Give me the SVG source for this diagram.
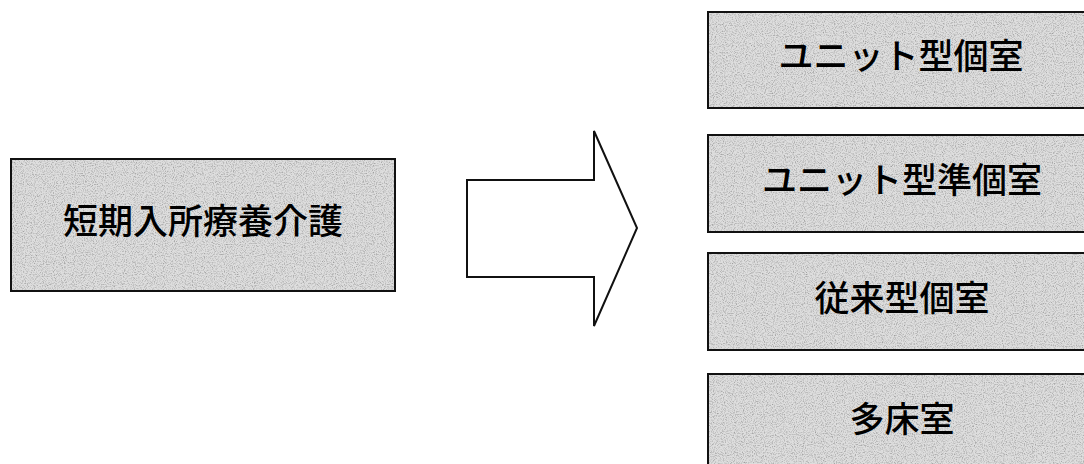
<svg xmlns="http://www.w3.org/2000/svg" width="1084" height="464" viewBox="0 0 1084 464">
  <defs>
    <filter id="noise" x="0" y="0" width="100%" height="100%">
      <feTurbulence type="fractalNoise" baseFrequency="0.9" numOctaves="2" seed="3" result="t"/>
      <feColorMatrix in="t" type="matrix" values="0 0 0 0 0.35  0 0 0 0 0.35  0 0 0 0 0.35  0 0 0 -2.4 1.35" result="dots"/>
      <feComposite in="dots" in2="SourceGraphic" operator="in" result="d2"/>
      <feMerge>
        <feMergeNode in="SourceGraphic"/>
        <feMergeNode in="d2"/>
      </feMerge>
    </filter>
    <style>
      .box { fill: #dedede; }
      .frame { fill: none; stroke: #111; stroke-width: 2; }
      .lbl { font-family: "Noto Sans CJK JP", "Noto Sans CJK SC", sans-serif; font-size: 35px; font-weight: 500; fill: #000; text-anchor: middle; }
      .arrow { fill: #fff; stroke: #111; stroke-width: 2; stroke-linejoin: miter; }
    </style>
  </defs>
  <rect width="1084" height="464" fill="#fff"/>

  <g id="node-source">
    <rect class="box" x="11" y="159" width="384" height="132" filter="url(#noise)"/>
    <rect class="frame" x="11" y="159" width="384" height="132"/>
    <text class="lbl" x="203" y="234">短期入所療養介護</text>
  </g>

  <g id="connectors">
    <path class="arrow" d="M467,180 L594,180 L594,131 L637,228 L594,326 L594,277 L467,277 Z"/>
  </g>

  <g id="node-unit-private">
    <rect class="box" x="708" y="12" width="390" height="96" filter="url(#noise)"/>
    <rect class="frame" x="708" y="12" width="390" height="96"/>
    <text class="lbl" x="901" y="69">ユニット型個室</text>
  </g>

  <g id="node-unit-semi">
    <rect class="box" x="708" y="135" width="390" height="97" filter="url(#noise)"/>
    <rect class="frame" x="708" y="135" width="390" height="97"/>
    <text class="lbl" x="902" y="193">ユニット型準個室</text>
  </g>

  <g id="node-conventional">
    <rect class="box" x="708" y="253" width="390" height="97" filter="url(#noise)"/>
    <rect class="frame" x="708" y="253" width="390" height="97"/>
    <text class="lbl" x="902" y="311">従来型個室</text>
  </g>

  <g id="node-multi">
    <rect class="box" x="708" y="374" width="390" height="100" filter="url(#noise)"/>
    <rect class="frame" x="708" y="374" width="390" height="100"/>
    <text class="lbl" x="902" y="432">多床室</text>
  </g>
</svg>
